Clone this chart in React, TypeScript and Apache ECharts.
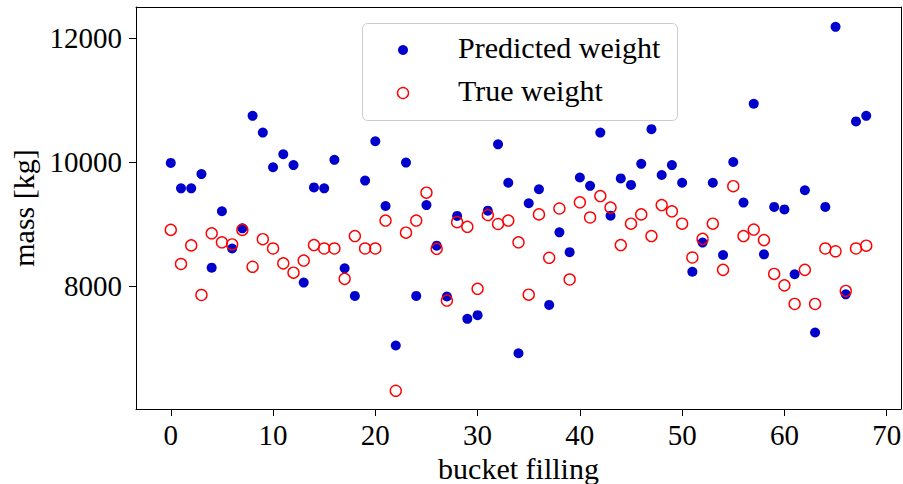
import React, { useEffect, useRef } from "react";
import * as echarts from "echarts";

const bucketIndex: number[] = Array.from({ length: 69 }, (_, i) => i);

const predictedWeight: number[] = [
  9990, 9580, 9580, 9810, 8300, 9210, 8610, 8935, 10750, 10480,
  9920, 10130, 9955, 8060, 9595, 9580, 10040, 8290, 7845, 9705,
  10340, 9295, 7045, 9995, 7845, 9310, 8655, 7835, 9135, 7475,
  7535, 9220, 10290, 9670, 6920, 9340, 9565, 7700, 8870, 8550,
  9755, 9620, 10480, 9140, 9740, 9635, 9975, 10535, 9795, 9955,
  9670, 8235, 8705, 9670, 8505, 10005, 9350, 10945, 8515, 9280,
  9240, 8195, 9550, 7255, 9280, 12185, 7870, 10660, 10750,
];

const trueWeight: number[] = [
  8910, 8360, 8660, 7860, 8855, 8710, 8675, 8910, 8315, 8760,
  8610, 8370, 8220, 8415, 8665, 8610, 8610, 8120, 8810, 8610,
  8610, 9060, 6315, 8865, 9060, 9510, 8605, 7770, 9035, 8960,
  7960, 9150, 9005, 9060, 8710, 7865, 9160, 8460, 9255, 8110,
  9355, 9110, 9455, 9270, 8665, 9010, 9160, 8810, 9310, 9210,
  9010, 8465, 8765, 9010, 8265, 9615, 8810, 8915, 8745, 8200,
  8015, 7715, 8265, 7715, 8610, 8565, 7925, 8610, 8655,
];

const xTicks: number[] = [0, 10, 20, 30, 40, 50, 60, 70];
const yTicks: number[] = [8000, 10000, 12000];
const seriesNames: string[] = ["Predicted weight", "True weight"];

const FONT = "'Liberation Serif', 'Times New Roman', serif";
const X_MIN = -3.4;
const X_MAX = 71.4;
const Y_MIN = 6021;
const Y_MAX = 12505;

export default function App() {
  const ref = useRef<HTMLDivElement>(null);

  useEffect(() => {
    if (!ref.current) return;
    const chart = echarts.init(ref.current, undefined, { renderer: "svg" });
    const predData = bucketIndex.map((x, i) => [x, predictedWeight[i]]);
    const trueData = bucketIndex.map((x, i) => [x, trueWeight[i]]);

    const frameAxis = {
      type: "value",
      axisLine: { show: true, onZero: false, lineStyle: { color: "#000", width: 1 } },
      axisTick: { show: false },
      axisLabel: { show: false },
      splitLine: { show: false },
    };

    chart.setOption({
      animation: false,
      backgroundColor: "#ffffff",
      grid: {
        left: 136,
        top: 7,
        right: 2,
        bottom: 75,
        containLabel: false,
        outerBoundsMode: "none",
      },
      xAxis: [
        {
          type: "value",
          min: X_MIN,
          max: X_MAX,
          position: "bottom",
          name: "bucket filling",
          nameLocation: "middle",
          nameGap: 40,
          nameTextStyle: { fontFamily: FONT, fontSize: 30, color: "#000" },
          axisLine: { show: true, onZero: false, lineStyle: { color: "#000", width: 1 } },
          axisTick: { show: true, length: 7, inside: false, customValues: xTicks, lineStyle: { color: "#000" } },
          axisLabel: { customValues: xTicks, margin: 11, fontFamily: FONT, fontSize: 29, color: "#000" },
          splitLine: { show: false },
        },
        { ...frameAxis, min: X_MIN, max: X_MAX, position: "top" },
      ],
      yAxis: [
        {
          type: "value",
          min: Y_MIN,
          max: Y_MAX,
          position: "left",
          name: "mass [kg]",
          nameLocation: "middle",
          nameRotate: 90,
          nameGap: 86,
          nameTextStyle: { fontFamily: FONT, fontSize: 30, color: "#000" },
          axisLine: { show: true, onZero: false, lineStyle: { color: "#000", width: 1 } },
          axisTick: { show: true, length: 7, inside: false, customValues: yTicks, lineStyle: { color: "#000" } },
          axisLabel: {
            customValues: yTicks,
            margin: 14,
            fontFamily: FONT,
            fontSize: 29,
            color: "#000",
            formatter: (v: number) => String(Math.round(v)),
          },
          splitLine: { show: false },
        },
        { ...frameAxis, min: Y_MIN, max: Y_MAX, position: "right" },
      ],
      series: [
        {
          name: seriesNames[0],
          type: "scatter",
          data: predData,
          symbol: "circle",
          symbolSize: 10,
          itemStyle: { color: "#0000CD", opacity: 1 },
          z: 2,
        },
        {
          name: seriesNames[1],
          type: "scatter",
          data: trueData,
          symbol: "circle",
          symbolSize: 11,
          itemStyle: { color: "rgba(0,0,0,0)", borderColor: "#FF0000", borderWidth: 1.4, opacity: 1 },
          z: 3,
        },
      ],
      graphic: [
        {
          type: "rect",
          left: 362,
          top: 23,
          shape: { width: 315, height: 97, r: 5 },
          style: { fill: "rgba(255,255,255,0.8)", stroke: "#cccccc", lineWidth: 1 },
          z: 10,
        },
        {
          type: "circle",
          shape: { cx: 403, cy: 50, r: 5 },
          style: { fill: "#0000CD" },
          z: 11,
        },
        {
          type: "circle",
          shape: { cx: 403, cy: 93, r: 5.5 },
          style: { fill: "none", stroke: "#FF0000", lineWidth: 1.4 },
          z: 11,
        },
        {
          type: "text",
          x: 458,
          y: 47,
          style: { text: seriesNames[0], fontFamily: FONT, fontSize: 30, fill: "#000", verticalAlign: "middle", align: "left" },
          z: 11,
        },
        {
          type: "text",
          x: 458,
          y: 90,
          style: { text: seriesNames[1], fontFamily: FONT, fontSize: 30, fill: "#000", verticalAlign: "middle", align: "left" },
          z: 11,
        },
      ],
    });

    return () => chart.dispose();
  }, []);

  return (
    <div
      ref={ref}
      style={{ position: "absolute", left: 0, top: 0, width: 903, height: 484, overflow: "hidden" }}
    />
  );
}
